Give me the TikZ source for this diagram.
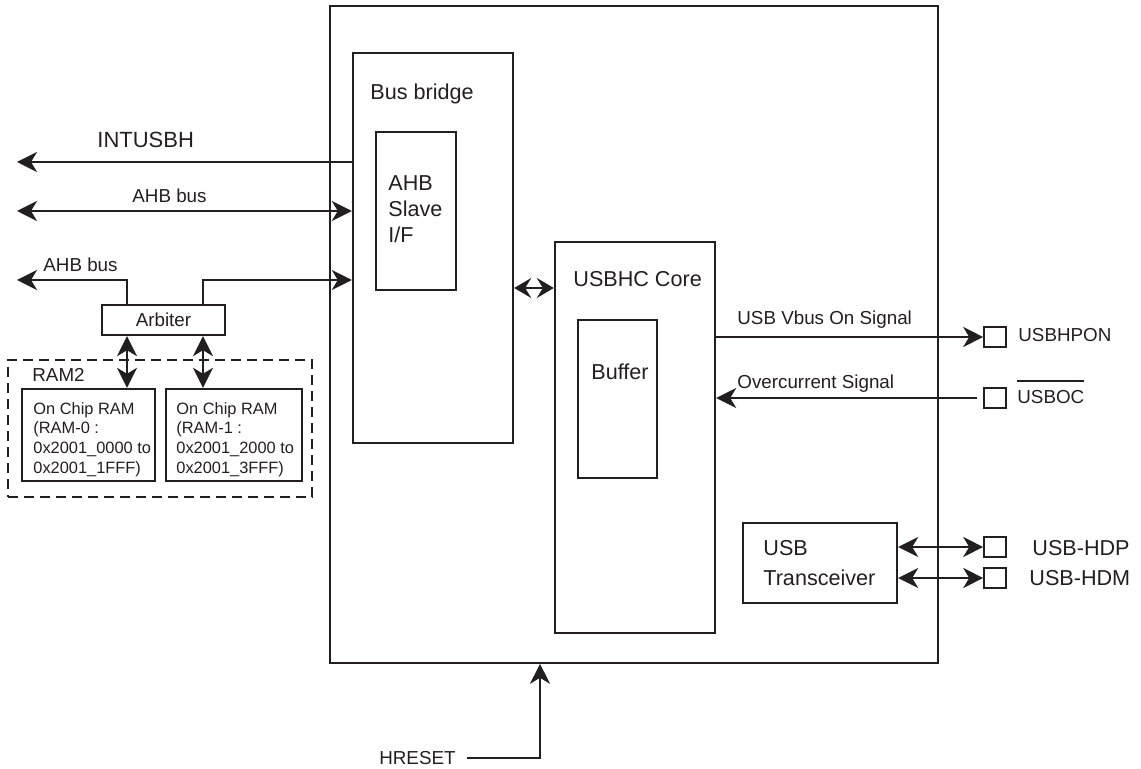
\documentclass[tikz,border=0pt]{standalone}
\usepackage{fontspec}
\setmainfont{Liberation Sans}
\usepackage{xcolor}
\usepackage{tikz}
\usetikzlibrary{arrows.meta, positioning, fit}
\definecolor{inkgray}{RGB}{35, 31, 32}
\newcommand{\barover}[1]{\vbox{\hrule height 0.75pt\kern 4.4pt\hbox{#1}}}

\begin{document}
\begin{tikzpicture}[x=0.5pt, y=-0.5pt,
    blk/.style={draw=inkgray, line width=1.2pt, inner sep=0pt},
    pad/.style={rectangle, draw=inkgray, line width=0.8pt, inner sep=0pt,
      minimum width=11pt, minimum height=10pt},
    lbl/.style={anchor=north west, inner sep=0pt, text=inkgray, align=left},
    bigtxt/.style={font=\fontsize{10.8}{13}\selectfont},
    smalltxt/.style={font=\fontsize{9.4}{11}\selectfont},
    ramtxt/.style={font=\fontsize{8.2}{9.8}\selectfont},
    arr/.style={-{Stealth[length=10pt, width=10pt, inset=3pt]}, line width=1.05pt, color=inkgray},
    dbl/.style={{Stealth[length=10pt, width=10pt, inset=3pt]}-{Stealth[length=10pt, width=10pt, inset=3pt]},
      line width=1.05pt, color=inkgray},
    shortdbl/.style={{Stealth[length=8.5pt, width=10pt, inset=3pt]}-{Stealth[length=8.5pt, width=10pt, inset=3pt]},
      line width=1.05pt, color=inkgray}
]
  \useasboundingbox (0,0) rectangle (1141,769);

  % Blocks
  \node[blk, line width=0.8pt, fit={(330,6) (938,663)}] (soc) {};
  \node[blk, fit={(353,53) (513,443)}] (bridge) {};
  \node[blk, fit={(376,132) (456,290)}] (slave) {};
  \node[blk, fit={(555,242) (715,633)}] (core) {};
  \node[blk, fit={(578,320) (657,478)}] (buffer) {};
  \node[blk, fit={(743,523) (897,603)}] (xcvr) {};
  \node[blk, fit={(102,305) (225,335)},
    label={[smalltxt, text=inkgray, inner sep=0pt]center:Arbiter}] (arbiter) {};
  \node[draw=inkgray, line width=1.1pt, dash pattern=on 5pt off 3pt, inner sep=0pt,
    fit={(8,360) (312,497)}] (ram2) {};
  \node[blk, fit={(22,389) (155,481)}] (ram0) {};
  \node[blk, fit={(166,389) (302,481)}] (ram1) {};

  % Block labels
  \node[lbl, bigtxt] at (370,83) {Bus bridge};
  \node[lbl, bigtxt] at (388,175) {AHB\\Slave\\I/F};
  \node[lbl, bigtxt] at (573,271) {USBHC Core};
  \node[lbl, bigtxt] at (591,363) {Buffer};
  \node[lbl, font=\fontsize{10.8}{15}\selectfont] at (763,540) {USB\\Transceiver};
  \node[lbl, smalltxt] at (32,368) {RAM2};
  \node[lbl, ramtxt] at (33,402) {On Chip RAM\\(RAM-0 :\\0x2001\_0000 to\\0x2001\_1FFF)};
  \node[lbl, ramtxt] at (176,402) {On Chip RAM\\(RAM-1 :\\0x2001\_2000 to\\0x2001\_3FFF)};

  % Pins
  \node[pad] (hpon) at (995,337) {};
  \node[pad] (oc) at (995,398) {};
  \node[pad] (hdp) at (995,547) {};
  \node[pad] (hdm) at (995,578) {};
  \node[lbl, smalltxt] at (1018,328) {USBHPON};
  \node[lbl, smalltxt] at (1017,380) {\barover{USBOC}};
  \node[lbl, bigtxt] at (1032,540) {USB-HDP};
  \node[lbl, bigtxt] at (1029,570) {USB-HDM};

  % Signal labels
  \node[lbl, font=\fontsize{11}{13}\selectfont] at (97,132) {INTUSBH};
  \node[lbl, smalltxt] at (132,188) {AHB bus};
  \node[lbl, smalltxt] at (43,257) {AHB bus};
  \node[lbl, smalltxt] at (737,310) {USB Vbus On Signal};
  \node[lbl, smalltxt] at (737,374) {Overcurrent Signal};
  \node[smalltxt, anchor=east, inner sep=0pt, text=inkgray] (hreset) at (456,758) {HRESET};

  % Free ends and bends
  \coordinate (intL) at (17,162);
  \coordinate (ahbL) at (17,211);
  \coordinate (ahb2L) at (17,280);
  \coordinate (tapA) at (127,280);
  \coordinate (tapB) at (203,280);
  \coordinate (bcY) at (0,288);
  \coordinate (rstX) at (540,0);

  % Arrows
  \draw[arr] (bridge.west |- intL) -- (intL);
  \draw[dbl] (ahbL) -- (bridge.west |- ahbL);
  \draw[arr] (arbiter.north -| tapA) -- (tapA) -- (ahb2L);
  \draw[arr] (arbiter.north -| tapB) -- (tapB) -- (bridge.west |- tapB);
  \draw[dbl] (arbiter.south -| tapA) -- (ram0.north -| tapA);
  \draw[dbl] (arbiter.south -| tapB) -- (ram1.north -| tapB);
  \draw[shortdbl] (bridge.east |- bcY) -- (core.west |- bcY);
  \draw[arr] (core.east |- hpon) -- (hpon.west);
  \draw[arr, shorten <=3pt] (oc.west) -- (core.east |- oc);
  \draw[dbl] (xcvr.east |- hdp) -- (hdp.west);
  \draw[dbl] (xcvr.east |- hdm) -- (hdm.west);
  \draw[arr, shorten <=5.5pt] (hreset.east) -| (soc.south -| rstX);
\end{tikzpicture}
\end{document}
